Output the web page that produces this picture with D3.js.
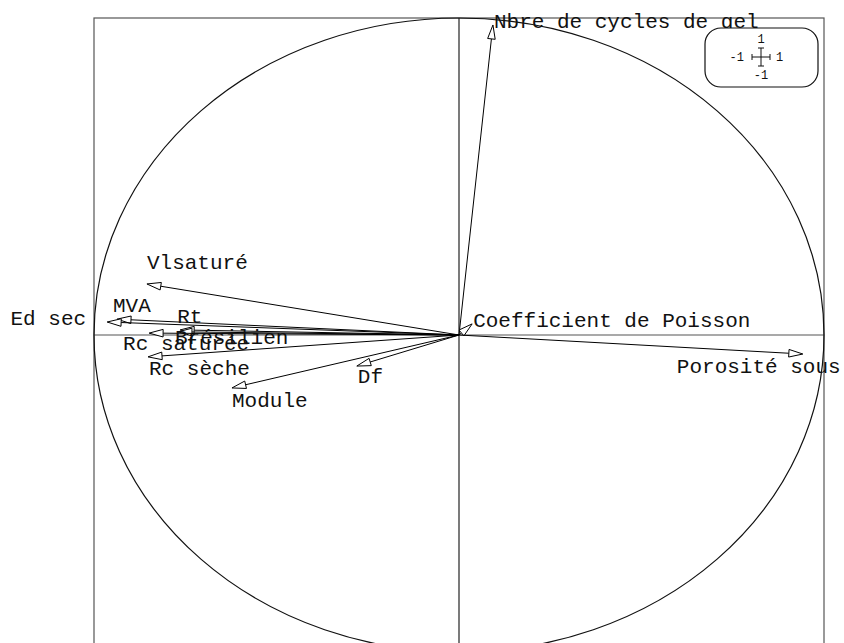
<!DOCTYPE html>
<html>
<head>
<meta charset="utf-8">
<script src="https://cdn.jsdelivr.net/npm/d3@7"></script>
<style>
  html, body { margin: 0; padding: 0; background: #fff; }
  svg { display: block; }
  text { font-family: "Liberation Mono", "Courier New", Courier, monospace; }
</style>
</head>
<body>
<svg id="chart" width="844" height="643"></svg>
<script>
// Variables of the correlation circle (axis 1, axis 2 coordinates)
const variables = ["Nbre de cycles de gel", "Vlsaturé", "MVA", "Ed sec", "Rt",
                   "Brésilien", "Rc saturée", "Rc sèche", "Module", "Df",
                   "Coefficient de Poisson", "Porosité sous"];
const axis1 = [0.093, -0.855, -0.937, -0.964, -0.764, -0.770, -0.849, -0.852, -0.622, -0.280, 0.036, 0.942];
const axis2 = [0.978, 0.161, 0.050, 0.041, 0.016, 0.010, 0.006, -0.069, -0.167, -0.098, 0.035, -0.060];

// Scale box ticks
const scaleTicks = ["1", "-1", "1", "-1"];

// Label placement relative to arrow tips (pixels)
const labelLayout = [
  { dx: 1, dy: 3, anchor: "start" },
  { dx: 0, dy: -15, anchor: "start" },
  { dx: -4, dy: -7, anchor: "start" },
  { dx: -21, dy: 3, anchor: "end" },
  { dx: -3, dy: -7, anchor: "start" },
  { dx: -3, dy: 12, anchor: "start" },
  { dx: -26, dy: 17, anchor: "start" },
  { dx: 1, dy: 18, anchor: "start" },
  { dx: 0, dy: 19, anchor: "start" },
  { dx: 1, dy: 17, anchor: "start" },
  { dx: 1, dy: 3, anchor: "start" },
  { dx: -126, dy: 19, anchor: "start" }
];

const svg = d3.select("#chart");
const x = d3.scaleLinear().domain([-1, 1]).range([94, 824]);
const y = d3.scaleLinear().domain([-1, 1]).range([652, 18]);

const g = svg.append("g");

// Frame and axes
g.append("rect")
  .attr("x", x(-1)).attr("y", y(1))
  .attr("width", x(1) - x(-1)).attr("height", y(-1) - y(1))
  .attr("fill", "none").attr("stroke", "#555").attr("stroke-width", 1.2);
g.append("line")
  .attr("x1", x(-1)).attr("x2", x(1)).attr("y1", y(0)).attr("y2", y(0))
  .attr("stroke", "#555").attr("stroke-width", 1.2);
g.append("line")
  .attr("x1", x(0)).attr("x2", x(0)).attr("y1", y(1)).attr("y2", y(-1))
  .attr("stroke", "#222").attr("stroke-width", 1.2);

// Unit circle
g.append("ellipse")
  .attr("cx", x(0)).attr("cy", y(0))
  .attr("rx", x(1) - x(0)).attr("ry", y(0) - y(1))
  .attr("fill", "none").attr("stroke", "#111").attr("stroke-width", 1.2);

const data = variables.map((name, i) => ({ name, a: axis1[i], b: axis2[i], lay: labelLayout[i] }));

// Arrows
const headLen = 14, headHalf = 3.8;
data.forEach(d => {
  const x0 = x(0), y0 = y(0), x1 = x(d.a), y1 = y(d.b);
  const ang = Math.atan2(y1 - y0, x1 - x0);
  const bx = x1 - headLen * Math.cos(ang), by = y1 - headLen * Math.sin(ang);
  const px = -Math.sin(ang) * headHalf, py = Math.cos(ang) * headHalf;
  g.append("line")
    .attr("x1", x0).attr("y1", y0).attr("x2", bx).attr("y2", by)
    .attr("stroke", "#000").attr("stroke-width", 1);
  g.append("path")
    .attr("d", `M${x1},${y1}L${bx + px},${by + py}L${bx - px},${by - py}Z`)
    .attr("fill", "#fff").attr("stroke", "#000").attr("stroke-width", 1);
});

// Labels
g.selectAll("text.lab").data(data).join("text")
  .attr("class", "lab")
  .attr("x", d => x(d.a) + d.lay.dx)
  .attr("y", d => y(d.b) + d.lay.dy)
  .attr("text-anchor", d => d.lay.anchor)
  .attr("font-size", 21)
  .attr("fill", "#111")
  .text(d => d.name);

// Scale box (top right)
const box = svg.append("g").attr("transform", "translate(761,57)");
box.append("rect")
  .attr("x", -56).attr("y", -29).attr("width", 113).attr("height", 59)
  .attr("rx", 16).attr("ry", 16)
  .attr("fill", "#fff").attr("stroke", "#111").attr("stroke-width", 1.2);
const s = 9, t = 3;
box.append("path")
  .attr("d", `M${-s},0H${s}M0,${-s}V${s}M${-s},${-t}V${t}M${s},${-t}V${t}M${-t},${-s}H${t}M${-t},${s}H${t}`)
  .attr("stroke", "#111").attr("stroke-width", 1).attr("fill", "none");
const tickPos = [[0, -14, "middle"], [-17, 4, "end"], [15, 4, "start"], [0, 22, "middle"]];
box.selectAll("text").data(scaleTicks).join("text")
  .attr("x", (d, i) => tickPos[i][0])
  .attr("y", (d, i) => tickPos[i][1])
  .attr("text-anchor", (d, i) => tickPos[i][2])
  .attr("font-size", 12)
  .attr("fill", "#111")
  .text(d => d);
</script>
</body>
</html>
